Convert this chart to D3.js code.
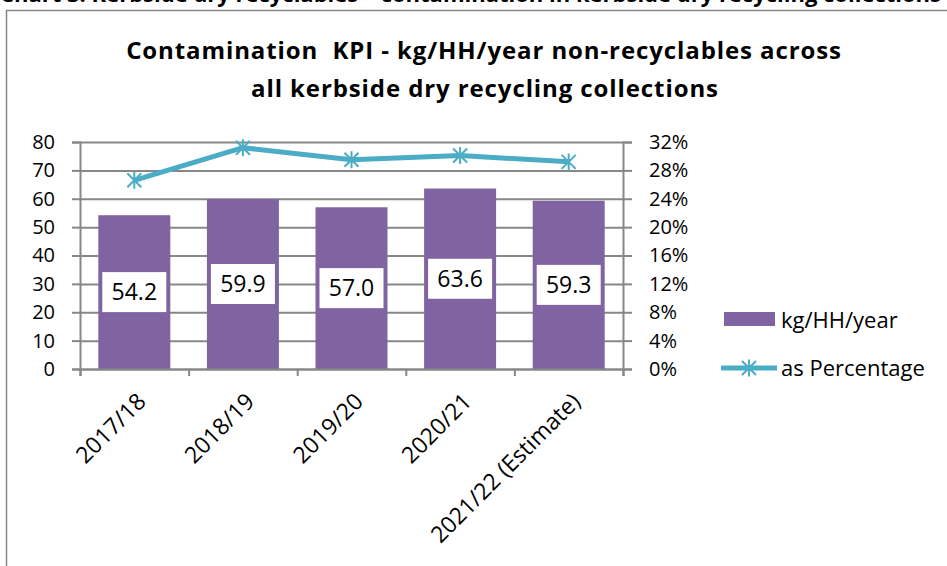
<!DOCTYPE html>
<html>
<head>
<meta charset="utf-8">
<script src="https://cdn.jsdelivr.net/npm/d3@7"></script>
<style>
  body { margin: 0; background: #fff; }
  svg { display: block; font-family: "Open Sans", Lato, sans-serif; }
</style>
</head>
<body>
<svg width="947" height="566"></svg>
<script>
var categories = ["2017/18", "2018/19", "2019/20", "2020/21", "2021/22 (Estimate)"];
var kgValues = [54.2, 59.9, 57.0, 63.6, 59.3];
var pctValues = [0.266, 0.312, 0.295, 0.301, 0.292];
var leftTicks = [0, 10, 20, 30, 40, 50, 60, 70, 80];
var rightTicks = [0, 0.04, 0.08, 0.12, 0.16, 0.20, 0.24, 0.28, 0.32];
var seriesNames = ["kg/HH/year", "as Percentage"];

var svg = d3.select("svg"),
  margin = { top: 142, left: 80, right: 324, bottom: 197 },
  width = +svg.attr("width") - margin.left - margin.right,
  height = +svg.attr("height") - margin.top - margin.bottom;

var purple = "#8064a2", teal = "#4bacc6", grey = "#878787";

// page heading, cut off above the chart like in the document
svg.append("text")
  .attr("x", 0).attr("y", 2)
  .attr("font-size", 22).attr("font-weight", "bold")
  .text("Chart 3: Kerbside dry recyclables – contamination in kerbside dry recycling collections");

// chart area border
svg.append("rect")
  .attr("x", 6.5).attr("y", 10.5).attr("width", 1200).attr("height", 1000)
  .attr("fill", "#fff").attr("stroke", grey).attr("stroke-width", 1.5);

var title = svg.append("text")
  .attr("text-anchor", "middle").attr("font-size", 24).attr("font-weight", "bold")
  .attr("letter-spacing", 0.9)
  .attr("fill", "#000");
title.append("tspan").attr("x", 484).attr("y", 59).text("Contamination\u00a0 KPI - kg/HH/year non-recyclables across");
title.append("tspan").attr("x", 485).attr("y", 97).text("all kerbside dry recycling collections");

var g = svg.append("g")
  .attr("transform", "translate(" + margin.left + "," + margin.top + ")");

var x = d3.scaleBand().domain(categories).range([0, width]).paddingInner(0.337).paddingOuter(0.1685);
var xEdge = d3.scaleLinear().domain([0, categories.length]).range([0, width]);
var y = d3.scaleLinear().domain([0, 80]).range([height, 0]);
var y2 = d3.scaleLinear().domain([0, 0.32]).range([height, 0]);

// gridlines
g.append("g")
  .attr("class", "grid")
  .call(d3.axisLeft(y).tickValues(leftTicks).tickSize(-width).tickFormat(""))
  .call(function (s) { s.select(".domain").remove(); });

// left axis
g.append("g")
  .attr("class", "axis")
  .call(d3.axisLeft(y).tickValues(leftTicks).tickSize(8).tickPadding(17));

// right axis
g.append("g")
  .attr("class", "axis")
  .attr("transform", "translate(" + width + ",0)")
  .call(d3.axisRight(y2).tickValues(rightTicks).tickSize(9).tickPadding(17)
    .tickFormat(d3.format(".0%")));

// bars
g.selectAll(".bar")
  .data(kgValues)
  .enter().append("rect")
  .attr("class", "bar")
  .attr("x", function (d, i) { return x(categories[i]); })
  .attr("y", function (d) { return y(d); })
  .attr("width", x.bandwidth())
  .attr("height", function (d) { return height - y(d); })
  .attr("fill", purple);

// bottom axis, ticks between categories
g.append("g")
  .attr("class", "axis")
  .attr("transform", "translate(0," + height + ")")
  .call(d3.axisBottom(xEdge).tickValues(d3.range(categories.length + 1)).tickSize(7).tickFormat(""));

g.selectAll(".xlabel")
  .data(categories)
  .enter().append("text")
  .attr("class", "xlabel")
  .attr("text-anchor", "end")
  .attr("font-size", 23)
  .attr("fill", "#000")
  .attr("transform", function (d) {
    return "translate(" + (x(d) + x.bandwidth() / 2 + 13) + "," + (height + 34) + ") rotate(-45)";
  })
  .text(function (d) { return d; });

// data labels
var labels = g.selectAll(".dlabel")
  .data(kgValues)
  .enter().append("g")
  .attr("class", "dlabel")
  .attr("transform", function (d, i) {
    return "translate(" + (x(categories[i]) + x.bandwidth() / 2) + "," + y(d / 2) + ")";
  });
labels.append("rect")
  .attr("x", -32).attr("y", -20).attr("width", 64).attr("height", 40)
  .attr("fill", "#fff");
labels.append("text")
  .attr("text-anchor", "middle").attr("dy", "0.36em")
  .attr("font-size", 23).attr("fill", "#000")
  .text(function (d) { return d3.format(".1f")(d); });

// percentage line
var line = d3.line()
  .x(function (d, i) { return x(categories[i]) + x.bandwidth() / 2; })
  .y(function (d) { return y2(d); });

g.append("path")
  .datum(pctValues)
  .attr("fill", "none")
  .attr("stroke", teal)
  .attr("stroke-width", 5)
  .attr("stroke-linejoin", "round")
  .attr("d", line);

function star(sel, r) {
  sel.append("path")
    .attr("d", "M" + (-r) + "," + (-r) + "L" + r + "," + r + "M" + (-r) + "," + r + "L" + r + "," + (-r) +
      "M0," + (-r * 1.2) + "L0," + (r * 1.2))
    .attr("stroke", teal).attr("stroke-width", 2).attr("fill", "none");
}

g.selectAll(".marker")
  .data(pctValues)
  .enter().append("g")
  .attr("class", "marker")
  .attr("transform", function (d, i) {
    return "translate(" + (x(categories[i]) + x.bandwidth() / 2) + "," + y2(d) + ")";
  })
  .each(function () { star(d3.select(this), 7); });

// legend
var legend = svg.append("g").attr("font-size", 22).attr("fill", "#000");
legend.append("rect").attr("x", 724).attr("y", 312).attr("width", 51).attr("height", 14).attr("fill", purple);
legend.append("text").attr("x", 781).attr("y", 328).text(seriesNames[0]);
legend.append("line").attr("x1", 721).attr("x2", 777).attr("y1", 368).attr("y2", 368)
  .attr("stroke", teal).attr("stroke-width", 5);
star(legend.append("g").attr("transform", "translate(749,368)"), 7);
legend.append("text").attr("x", 781).attr("y", 376).text(seriesNames[1]);

// axis styling
svg.selectAll(".axis path, .axis line, .grid line")
  .attr("stroke", grey).attr("stroke-width", 2);
svg.selectAll(".axis text")
  .attr("font-size", 20).attr("fill", "#000").attr("font-family", "'Open Sans', Lato, sans-serif");
</script>
</body>
</html>
